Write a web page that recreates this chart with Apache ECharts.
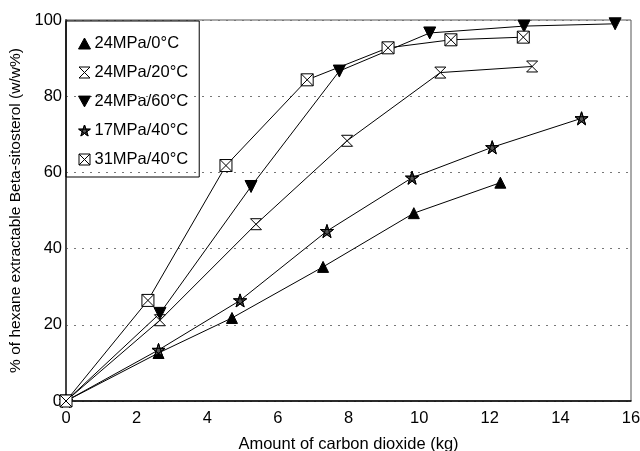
<!DOCTYPE html>
<html>
<head>
<meta charset="utf-8">
<script src="https://cdn.jsdelivr.net/npm/echarts@6/dist/echarts.min.js"></script>
<style>
  html, body { margin: 0; padding: 0; background: #fff; }
  #chart { width: 640px; height: 451px; }
</style>
</head>
<body>
<div id="chart"></div>
<script>
// Extraction curves: amount of CO2 (kg) vs % of hexane extractable beta-sitosterol
const seriesNames = ['24MPa/0°C', '24MPa/20°C', '24MPa/60°C', '17MPa/40°C', '31MPa/40°C'];

const p24t0 = [[0, 0], [2.62, 12.6], [4.7, 21.8], [7.28, 35.2], [9.85, 49.3], [12.3, 57.3]];
const p24t20 = [[0, 0], [2.66, 21.2], [5.38, 46.4], [7.96, 68.3], [10.6, 86.2], [13.2, 87.8]];
const p24t60 = [[0, 0], [2.66, 23.0], [5.24, 56.3], [7.74, 86.6], [10.3, 96.6], [12.97, 98.4], [15.55, 99.0]];
const p17t40 = [[0, 0], [2.62, 13.4], [4.93, 26.4], [7.39, 44.6], [9.8, 58.6], [12.07, 66.6], [14.6, 74.2]];
const p31t40 = [[0, 0], [2.32, 26.4], [4.53, 61.8], [6.83, 84.3], [9.12, 92.7], [10.9, 94.8], [12.95, 95.5]];

const xTicks = { min: 0, max: 16, step: 2 };
const yTicks = { min: 0, max: 100, step: 20 };

// Marker shapes
const triUp = 'triangle';
const hourglass = 'path://M0,0 L10,0 L0,10 L10,10 Z';
const triDown = 'path://M0,0 L10,0 L5,9 Z';
const star = 'path://M5,0 L6.2,3.6 L10,3.6 L6.9,5.9 L8.1,9.5 L5,7.3 L1.9,9.5 L3.1,5.9 L0,3.6 L3.8,3.6 Z M5,0 L8.1,9.5 L0,3.6 L10,3.6 L1.9,9.5 Z';
const boxX = 'path://M0,0 L10,0 L10,10 L0,10 Z M0,0 L10,10 M10,0 L0,10';

const dataSets = [p24t0, p24t20, p24t60, p17t40, p31t40];
const symbols = [triUp, hourglass, triDown, star, boxX];
const fills = ['#000', '#fff', '#000', '#555', '#fff'];
const sizes = [11, 11, 12, 13, 12];

const chart = echarts.init(document.getElementById('chart'), null, { renderer: 'canvas' });

const font = 'Liberation Sans, Arial, sans-serif';

chart.setOption({
  animation: false,
  backgroundColor: '#fff',
  grid: {
    left: 66, right: 9, top: 20, bottom: 50,
    outerBoundsMode: 'none',
    containLabel: false,
    show: true, borderColor: '#555', borderWidth: 1
  },
  legend: {
    orient: 'vertical',
    left: 66, top: 21,
    padding: [14, 11, 9, 12],
    itemGap: 12,
    itemWidth: 12, itemHeight: 11,
    borderColor: '#000', borderWidth: 1,
    textStyle: { fontFamily: font, fontSize: 16.5, lineHeight: 16, color: '#000', padding: [0, 0, 0, -1] },
    data: seriesNames.map((n, i) => ({
      name: n,
      icon: symbols[i],
      itemStyle: { color: fills[i], borderColor: '#000', borderWidth: 1 }
    }))
  },
  xAxis: {
    type: 'value',
    min: xTicks.min, max: xTicks.max, interval: xTicks.step,
    name: 'Amount of carbon dioxide (kg)',
    nameLocation: 'middle', nameGap: 35,
    nameTextStyle: { fontFamily: font, fontSize: 16.5, color: '#000' },
    axisLine: { lineStyle: { color: '#000', width: 1.5 } },
    axisTick: { show: false },
    axisLabel: { fontFamily: font, fontSize: 16.5, color: '#000', margin: 9 },
    splitLine: { show: false }
  },
  yAxis: {
    type: 'value',
    min: yTicks.min, max: yTicks.max, interval: yTicks.step,
    name: '% of hexane extractable Beta-sitosterol (w/w%)',
    nameLocation: 'middle', nameGap: 39,
    nameTextStyle: { fontFamily: font, fontSize: 15.5, color: '#000' },
    axisLine: { lineStyle: { color: '#444', width: 2 } },
    axisTick: { show: false },
    axisLabel: { fontFamily: font, fontSize: 16.5, color: '#000', margin: 4 },
    splitLine: { show: true, lineStyle: { color: '#777', type: [2, 6], width: 1 } }
  },
  series: dataSets.map((d, i) => ({
    name: seriesNames[i],
    type: 'line',
    data: d,
    symbol: symbols[i],
    symbolSize: sizes[i],
    showAllSymbol: true,
    lineStyle: { color: '#000', width: 1 },
    itemStyle: { color: fills[i], borderColor: '#000', borderWidth: 1 },
    emphasis: { disabled: true },
    z: 2 + i
  }))
});
</script>
</body>
</html>
